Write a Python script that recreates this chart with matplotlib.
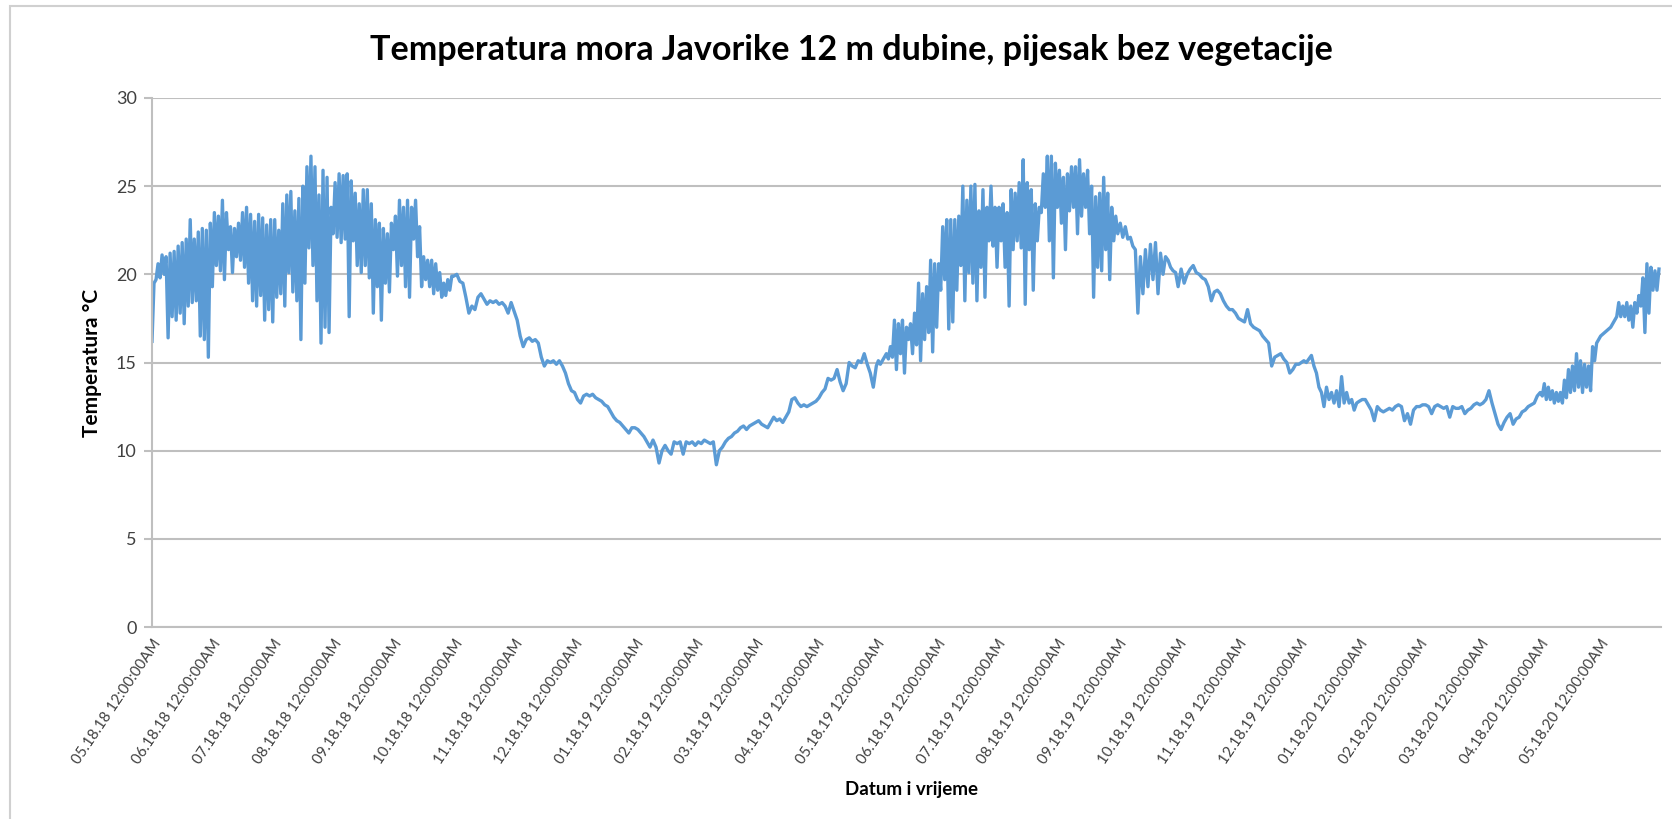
import numpy as np
import matplotlib
matplotlib.use('Agg')
import matplotlib.pyplot as plt
from matplotlib.patches import Rectangle

plt.rcParams['font.family'] = ['Lato', 'DejaVu Sans']

# category labels, one per month (18th of each month)
months = ['05.18.18', '06.18.18', '07.18.18', '08.18.18', '09.18.18', '10.18.18',
          '11.18.18', '12.18.18', '01.18.19', '02.18.19', '03.18.19', '04.18.19',
          '05.18.19', '06.18.19', '07.18.19', '08.18.19', '09.18.19', '10.18.19',
          '11.18.19', '12.18.19', '01.18.20', '02.18.20', '03.18.20', '04.18.20',
          '05.18.20']
tick_labels = [m + ' 12:00:00AM' for m in months]

# temperature readings (°C), one list per month
t_1805 = [16.2, 19.5, 19.7, 20.6, 19.8, 21.1, 20.0, 21.0, 16.4, 21.2, 17.6, 21.3, 17.4, 21.6, 17.8,
          21.8, 17.2, 22.0, 18.2, 23.1, 18.4, 22.0, 18.5, 22.4, 16.5, 22.6, 16.3, 22.5, 15.3, 22.9]
t_1806 = [19.3, 23.5, 20.5, 23.3, 20.2, 24.2, 19.7, 23.5, 21.4, 22.7, 20.1, 22.6, 21.0, 22.9, 20.8,
          23.5, 20.4, 23.8, 19.5, 23.4, 18.5, 23.0, 18.2, 23.4, 18.8, 23.2, 17.4, 22.8, 18.0, 23.1]
t_1807 = [17.3, 23.1, 18.7, 22.5, 18.9, 24.0, 18.2, 24.5, 20.1, 24.7, 19.0, 23.6, 18.5, 24.3, 16.3,
          25.0, 19.5, 26.1, 21.5, 26.7, 20.5, 26.1, 18.5, 24.5, 16.1, 25.9, 17.0, 25.5, 16.7, 23.8]
t_1808 = [22.3, 25.2, 22.1, 25.7, 21.8, 25.6, 22.0, 25.7, 17.6, 25.3, 21.9, 24.6, 20.5, 24.0, 20.1,
          24.8, 20.5, 24.8, 19.8, 24.0, 17.8, 23.1, 19.3, 22.9, 17.4, 22.6, 19.5, 22.3, 19.0, 22.9]
t_1809 = [21.4, 23.3, 19.9, 24.2, 20.5, 23.8, 19.3, 24.2, 18.7, 23.8, 22.0, 24.2, 21.0, 22.7, 19.3,
          21.0, 19.7, 20.8, 19.3, 20.8, 18.9, 20.6, 19.1, 20.1, 18.7, 19.5, 18.8, 19.7, 19.1, 19.9]
t_1810 = [19.9, 20.0, 19.6, 19.5, 18.7, 17.8, 18.2, 18.0, 18.7, 18.9,
          18.6, 18.3, 18.5, 18.4, 18.5, 18.3, 18.4, 18.2, 17.8, 18.4]
t_1811 = [17.9, 17.4, 16.5, 15.9, 16.3, 16.4, 16.2, 16.3, 16.1, 15.3,
          14.8, 15.1, 15.0, 15.1, 14.9, 15.1, 14.8, 14.4, 13.8, 13.4]
t_1812 = [13.3, 12.9, 12.7, 13.1, 13.2, 13.1, 13.2, 13.0, 12.9, 12.8,
          12.6, 12.5, 12.2, 11.9, 11.7, 11.6, 11.4, 11.2, 11.0, 11.3]
t_1901 = [11.3, 11.2, 11.0, 10.8, 10.5, 10.2, 10.6, 10.2, 9.3, 10.0,
          10.3, 10.0, 9.8, 10.5, 10.4, 10.5, 9.8, 10.5, 10.4, 10.5]
t_1902 = [10.3, 10.5, 10.4, 10.6, 10.5, 10.4, 10.5, 9.2, 10.0, 10.2,
          10.5, 10.7, 10.8, 11.0, 11.1, 11.3, 11.4, 11.2, 11.4, 11.5]
t_1903 = [11.6, 11.7, 11.5, 11.4, 11.3, 11.6, 11.9, 11.7, 11.8, 11.6,
          11.9, 12.2, 12.9, 13.0, 12.7, 12.5, 12.6, 12.5, 12.6, 12.7]
t_1904 = [12.8, 13.0, 13.3, 13.5, 14.1, 14.0, 14.1, 14.6, 13.9, 13.4,
          13.8, 15.0, 14.8, 14.7, 15.1, 15.0, 15.5, 14.9, 14.4, 13.6]
t_1905 = [14.8, 15.1, 14.9, 15.1, 15.3, 15.5, 15.2, 15.9, 15.3, 17.4, 14.6, 17.2, 15.5, 17.4, 14.4,
          17.0, 16.3, 17.2, 15.5, 17.8, 16.0, 19.5, 15.1, 18.9, 16.3, 19.3, 16.7, 20.8, 15.6, 20.6]
t_1906 = [17.0, 20.6, 19.1, 22.7, 19.7, 23.1, 16.9, 23.1, 17.3, 23.1, 19.1, 23.3, 20.5, 25.0, 18.5,
          24.2, 20.1, 25.0, 19.5, 25.1, 18.5, 23.6, 20.4, 24.8, 18.7, 23.8, 21.9, 25.0, 21.6, 23.8]
t_1907 = [20.4, 23.8, 21.9, 24.0, 20.4, 23.5, 18.2, 24.8, 21.4, 24.6, 21.9, 25.2, 21.5, 26.5, 18.3,
          25.2, 21.4, 24.8, 19.1, 24.0, 21.9, 23.8, 23.5, 25.7, 23.8, 26.7, 21.9, 26.7, 19.8, 26.3]
t_1908 = [23.8, 25.9, 22.9, 25.5, 21.4, 25.7, 23.6, 26.1, 23.8, 26.1, 22.3, 26.5, 23.3, 25.7, 23.8,
          25.9, 22.3, 25.0, 18.7, 24.4, 20.4, 24.6, 20.2, 25.5, 21.4, 24.6, 19.7, 23.8, 21.9, 23.3]
t_1909 = [22.3, 22.9, 22.1, 22.7, 22.0, 22.1, 21.6, 21.4, 17.8, 21.0, 18.9, 21.4,
          19.3, 21.7, 19.7, 21.8, 18.9, 21.2, 20.0, 21.0, 20.8, 20.4, 20.2, 20.1]
t_1910 = [19.3, 20.3, 19.5, 20.0, 20.3, 20.5, 20.1, 20.0, 19.8, 19.7,
          19.3, 18.5, 19.0, 19.1, 18.9, 18.5, 18.2, 18.0, 18.0, 17.8]
t_1911 = [17.5, 17.4, 17.3, 18.0, 17.2, 17.0, 16.9, 16.8, 16.5, 16.3,
          16.1, 14.8, 15.3, 15.4, 15.5, 15.2, 15.0, 14.4, 14.6, 14.9]
t_1912 = [14.9, 15.0, 15.1, 15.0, 15.2, 15.4, 14.8, 14.4, 13.6, 13.3, 12.5, 13.6,
          12.9, 13.3, 12.7, 13.4, 12.5, 14.2, 12.7, 13.3, 12.7, 12.9, 12.3, 12.7]
t_2001 = [12.8, 12.9, 12.9, 12.6, 12.3, 11.7, 12.5, 12.3, 12.2, 12.3,
          12.4, 12.3, 12.5, 12.6, 12.5, 11.7, 12.1, 11.5, 12.3, 12.5]
t_2002 = [12.5, 12.6, 12.6, 12.5, 12.1, 12.5, 12.6, 12.5, 12.4, 12.5,
          11.9, 12.5, 12.4, 12.4, 12.5, 12.1, 12.3, 12.4, 12.6, 12.7]
t_2003 = [12.6, 12.7, 12.9, 13.4, 12.7, 12.1, 11.5, 11.2, 11.6, 11.9,
          12.1, 11.5, 11.8, 11.9, 12.2, 12.3, 12.5, 12.6, 12.7, 13.1]
t_2004 = [13.3, 13.1, 13.8, 12.9, 13.6, 12.9, 13.4, 12.7, 13.3, 12.8, 13.3, 12.7, 14.0, 13.0, 14.6,
          13.3, 14.8, 13.4, 15.5, 13.6, 15.1, 13.3, 14.9, 13.6, 14.8, 13.4, 15.9, 15.1, 16.1, 16.3]
t_2005 = [16.5, 16.6, 16.7, 16.8, 16.9, 17.0, 17.2, 17.4, 17.6, 18.4, 17.6, 18.2, 17.6, 18.4, 17.4,
          18.2, 17.0, 18.4, 17.8, 18.8, 18.2, 19.8, 16.7, 20.6, 17.8, 20.4, 19.1, 20.2, 19.1, 20.3]

segments = [t_1805, t_1806, t_1807, t_1808, t_1809, t_1810, t_1811, t_1812,
            t_1901, t_1902, t_1903, t_1904, t_1905, t_1906, t_1907, t_1908,
            t_1909, t_1910, t_1911, t_1912, t_2001, t_2002, t_2003, t_2004, t_2005]

xs, ys = [], []
for i, seg in enumerate(segments):
    n = len(seg)
    xs.extend(i + np.arange(n) / n)
    ys.extend(seg)

fig = plt.figure(figsize=(16.72, 8.19), dpi=100)
ax = fig.add_axes([152 / 1672, 1 - 627 / 819, (1661 - 152) / 1672, (627 - 98) / 819])

ax.plot(xs, ys, color='#5B9BD5', linewidth=2.4)

grid_c = '#bfbfbf'
ax.set_ylim(0, 30)
ax.set_yticks(range(0, 31, 5))
ax.set_xlim(0, 25)
ax.set_xticks(range(len(months)))
ax.set_xticklabels(tick_labels, rotation=56, ha='right', va='top',
                   rotation_mode='anchor', fontsize=10.8, color='#404040')
ax.grid(axis='y', color=grid_c, linewidth=1.5)
ax.set_axisbelow(True)
for s in ['top', 'right']:
    ax.spines[s].set_visible(False)
ax.spines['left'].set_color(grid_c)
ax.spines['bottom'].set_color(grid_c)
ax.spines['left'].set_linewidth(1.5)
ax.spines['bottom'].set_linewidth(1.5)
ax.tick_params(axis='y', length=6, color=grid_c, width=1.5, labelsize=13,
               labelcolor='#404040', pad=5)
ax.tick_params(axis='x', length=0, pad=7)

ax.set_ylabel('Temperatura °C', fontsize=15, fontweight='bold', labelpad=10)

fig.text(851 / 1672, 1 - 50 / 819, 'Temperatura mora Javorike 12 m dubine, pijesak bez vegetacije',
         ha='center', va='center', fontsize=24.6, fontweight='bold')
fig.text(912 / 1672, 1 - 790 / 819, 'Datum i vrijeme', ha='center', va='center',
         fontsize=13.5, fontweight='bold')

fig.patches.append(Rectangle((10 / 1672, -0.05), 1.1, 1 - 6 / 819 + 0.05,
                             transform=fig.transFigure, fill=False,
                             edgecolor='#d0d0d0', linewidth=1.5))

fig.savefig('out.png', dpi=100)
